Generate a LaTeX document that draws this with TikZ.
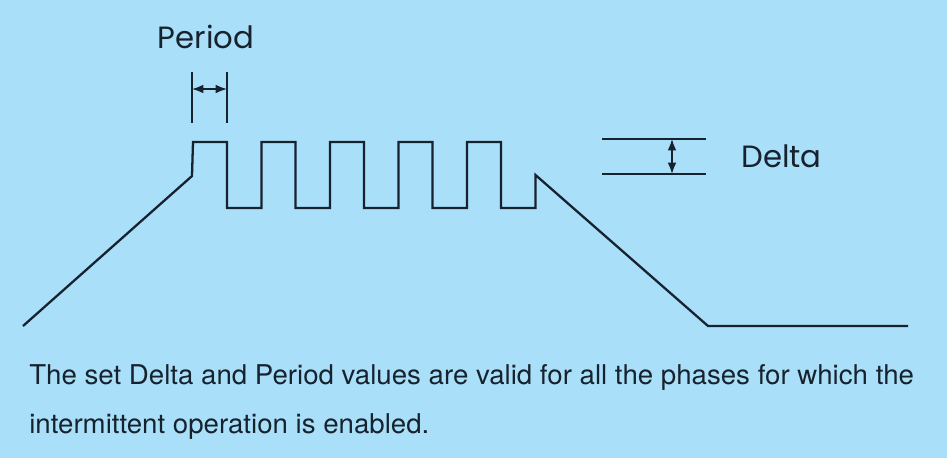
\documentclass[tikz,border=0pt]{standalone}
\usepackage{fontspec}
\usetikzlibrary{arrows.meta}
\newfontfamily\geofont{Poppins}
\newfontfamily\condfont[FakeStretch=1.015]{TeX Gyre Heros}
\definecolor{skyback}{RGB}{169,223,248}
\definecolor{inkline}{RGB}{22,34,46}

\begin{document}
\begin{tikzpicture}[x=0.02cm, y=-0.02cm, >={Latex[length=6.5pt,width=5pt]},
    wave/.style={line width=1.3pt, inkline, line join=miter},
    mark line/.style={line width=0.9pt, inkline},
    dim arrow/.style={<->, line width=0.9pt, inkline},
    label text/.style={inkline, font=\geofont\fontsize{17.5}{21}\selectfont, inner sep=0pt}]
        % ==== BACKGROUND ====
        \fill[skyback] (0,0) rectangle (947,458);
        \useasboundingbox (0,0) rectangle (947,458);

        % ==== WAVEFORM (ramp up, pulses, ramp down) ====
        \draw[wave] (23,326) -- (192,176) -- (193,142)
            \foreach \i in {0,...,3}{ -- ++(34,0) -- ++(0,66) -- ++(34.5,0) -- ++(0,-66) }
            -- ++(34,0) -- ++(0,66) -- ++(34.5,0) -- ++(0,-33)
            -- (708,326) -- (908,326);

        % ==== PERIOD ====
        \coordinate (pa) at (192,72);
        \coordinate (pb) at (227,72);
        \draw[mark line] (pa) -- ++(0,51);
        \draw[mark line] (pb) -- ++(0,51);
        \coordinate (pal) at (192,89);
        \coordinate (pbl) at (227,89);
        \draw[dim arrow] (pal) -- (pbl);
        \node[label text, anchor=base] (periodlbl) at (206,48) {Period};

        % ==== DELTA ====
        \coordinate (dtop) at (602,139);
        \coordinate (dbot) at (602,174);
        \draw[mark line] (dtop) -- ++(104,0);
        \draw[mark line] (dbot) -- ++(104,0);
        \coordinate (dat) at (672,139);
        \coordinate (dab) at (672,174);
        \draw[dim arrow] (dat) -- (dab);
        \node[label text, anchor=base west] (deltalbl) at (741,167) {Delta};

        % === NOTE ===
        \node[anchor=base west, inkline, inner sep=0pt, align=left,
              font=\condfont\fontsize{15.5}{27.8}\selectfont] (note) at (29,433)
            {The set Delta and Period values are valid for all the phases for which the\\
             intermittent operation is enabled.};
\end{tikzpicture}
\end{document}
